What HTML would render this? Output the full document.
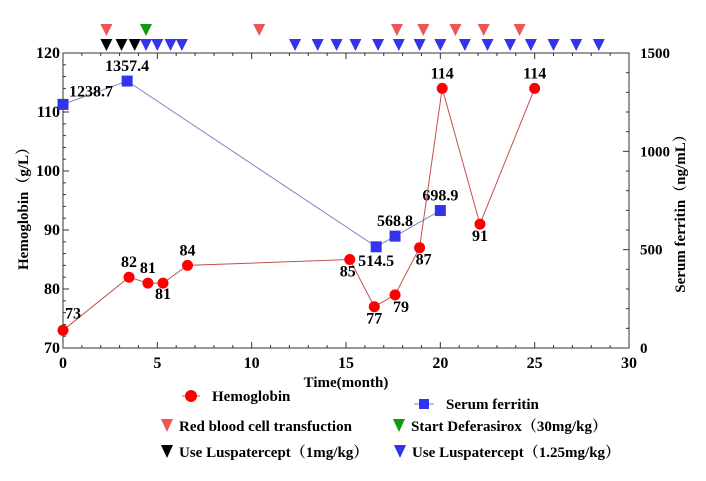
<!DOCTYPE html>
<html><head><meta charset="utf-8">
<style>
html,body{margin:0;padding:0;background:#fff;}
svg{display:block;}
svg text{font-family:"Liberation Serif","Times New Roman","Noto Serif CJK SC",serif;font-weight:bold;}
</style></head>
<body>
<svg id="chart" width="706" height="481" viewBox="0 0 706 481" xmlns="http://www.w3.org/2000/svg">
<g id="axes"></g>
<g id="series"></g>
<g id="events"></g>
<text x="346" y="387" font-size="15" text-anchor="middle">Time(month)</text>
<text transform="translate(28,205) rotate(-90)" font-size="15" text-anchor="middle">Hemoglobin（g/L）</text>
<text transform="translate(685,210) rotate(-90)" font-size="15" text-anchor="middle">Serum ferritin（ng/mL）</text>
<g font-size="15">
  <g>
    <line x1="182" y1="396" x2="200" y2="396" stroke="#c0504d" stroke-width="1"/>
    <circle cx="191" cy="396" r="6" fill="#f00"/>
    <text x="212" y="401">Hemoglobin</text>
  </g>
  <g>
    <line x1="414" y1="404" x2="434" y2="404" stroke="#8080cc" stroke-width="1"/>
    <rect x="419" y="399" width="10" height="10" fill="#3333ee"/>
    <text x="446" y="409">Serum ferritin</text>
  </g>
  <g>
    <polygon points="161,419 173,419 167,432" fill="#ee5555"/>
    <text x="179" y="431">Red blood cell transfuction</text>
  </g>
  <g>
    <polygon points="393,419 405,419 399,432" fill="#119911"/>
    <text x="411" y="431">Start Deferasirox（30mg/kg）</text>
  </g>
  <g>
    <polygon points="161,445 173,445 167,458" fill="#000"/>
    <text x="179" y="457">Use Luspatercept（1mg/kg）</text>
  </g>
  <g>
    <polygon points="394,445 406,445 400,458" fill="#3333ee"/>
    <text x="412" y="457">Use Luspatercept（1.25mg/kg）</text>
  </g>
</g>
</svg>
<script>
const hbMonths=[0,3.5,4.5,5.3,6.6,15.2,16.5,17.6,18.9,20.1,22.1,25];
const hbValues=[73,82,81,81,84,85,77,79,87,114,91,114];
const hbLabelDy=[-12,-10,-10,16,-10,17,17,17,17,-10,17,-10];
const hbLabelDx=[10,0,0,0,0,-2,0,6,4,0,0,0];
const feMonths=[0,3.4,16.6,17.6,20];
const feValues=[1238.7,1357.4,514.5,568.8,698.9];
const feLabels=["1238.7","1357.4","514.5","568.8","698.9"];
const feLabelDy=[-8,-10,19,-10,-10];
const feLabelDx=[28,0,0,0,0];
const transfusionMonths=[2.3,10.4,17.7,19.1,20.8,22.3,24.2];
const deferasiroxMonths=[4.4];
const lusp1Months=[2.3,3.1,3.8];
const lusp125Months=[4.4,5.0,5.7,6.3,12.3,13.5,14.5,15.5,16.7,17.8,18.9,20.0,21.3,22.5,23.7,24.8,26.0,27.2,28.4];
const xTicks=[0,5,10,15,20,25,30];
const yTicksLeft=[70,80,90,100,110,120];
const yTicksRight=[0,500,1000,1500];

const L=63,R=629,T=53,B=348;
const xS=m=>L+(m/30)*(R-L);
const yL=v=>B-(v-70)/50*(B-T);
const yR=v=>B-v/1500*(B-T);
const NS="http://www.w3.org/2000/svg";
function mk(tag,attrs,parent){const e=document.createElementNS(NS,tag);for(const k in attrs)e.setAttribute(k,attrs[k]);parent.appendChild(e);return e;}
const axes=document.getElementById('axes'),series=document.getElementById('series'),events=document.getElementById('events');

const frame=mk('rect',{x:L,y:T,width:R-L,height:B-T,fill:'none',stroke:'#333','stroke-width':1},axes);


for(let m=0;m<=30;m++){
  const len=m%5===0?6:3;
  mk('line',{x1:xS(m),y1:B,x2:xS(m),y2:B-len,stroke:'#333'},axes);
  mk('line',{x1:xS(m),y1:T,x2:xS(m),y2:T+len,stroke:'#333'},axes);
}
for(let v=70;v<=120;v+=2){
  const len=v%10===0?6:3;
  mk('line',{x1:L,y1:yL(v),x2:L+len,y2:yL(v),stroke:'#333'},axes);
}
for(let v=0;v<=1500;v+=100){
  const len=v%500===0?6:3;
  mk('line',{x1:R,y1:yR(v),x2:R-len,y2:yR(v),stroke:'#333'},axes);
}
xTicks.forEach(m=>{const t=mk('text',{x:xS(m),y:B+20,'font-size':16,'text-anchor':'middle'},axes);t.textContent=m;

});
yTicksLeft.forEach(v=>{const t=mk('text',{x:L-3,y:yL(v)+5,'font-size':16,'text-anchor':'end'},axes);t.textContent=v;

});
yTicksRight.forEach(v=>{const t=mk('text',{x:R+11,y:yR(v)+5,'font-size':15},axes);t.textContent=v;

});

const fp=mk('polyline',{points:feMonths.map((m,i)=>xS(m)+','+yR(feValues[i])).join(' '),fill:'none',stroke:'#8585c8','stroke-width':1},series);


feMonths.forEach((m,i)=>{
  const r=mk('rect',{x:xS(m)-5.5,y:yR(feValues[i])-5.5,width:11,height:11,fill:'#3333ee'},series);
  
  
  const t=mk('text',{x:xS(m)+feLabelDx[i],y:yR(feValues[i])+feLabelDy[i],'font-size':16,'text-anchor':'middle'},series);t.textContent=feLabels[i];
  
  
});
const hp=mk('polyline',{points:hbMonths.map((m,i)=>xS(m)+','+yL(hbValues[i])).join(' '),fill:'none',stroke:'#c0504d','stroke-width':1},series);


hbMonths.forEach((m,i)=>{
  const c=mk('circle',{cx:xS(m),cy:yL(hbValues[i]),r:5.5,fill:'#f00'},series);
  
  
  const t=mk('text',{x:xS(m)+hbLabelDx[i],y:yL(hbValues[i])+hbLabelDy[i],'font-size':16,'text-anchor':'middle'},series);t.textContent=hbValues[i];
  
  
});
function tri(m,top,color,name){
  const x=xS(m);
  const p=mk('polygon',{points:(x-6)+','+top+' '+(x+6)+','+top+' '+x+','+(top+12),fill:color},events);
  
  
}
transfusionMonths.forEach(m=>tri(m,24,'#ee5555','transfusion-marker'));
deferasiroxMonths.forEach(m=>tri(m,24,'#119911','deferasirox-marker'));
lusp1Months.forEach(m=>tri(m,39,'#000','luspatercept-1mg-marker'));
lusp125Months.forEach(m=>tri(m,39,'#3333ee','luspatercept-1-25mg-marker'));
</script>
</body></html>
